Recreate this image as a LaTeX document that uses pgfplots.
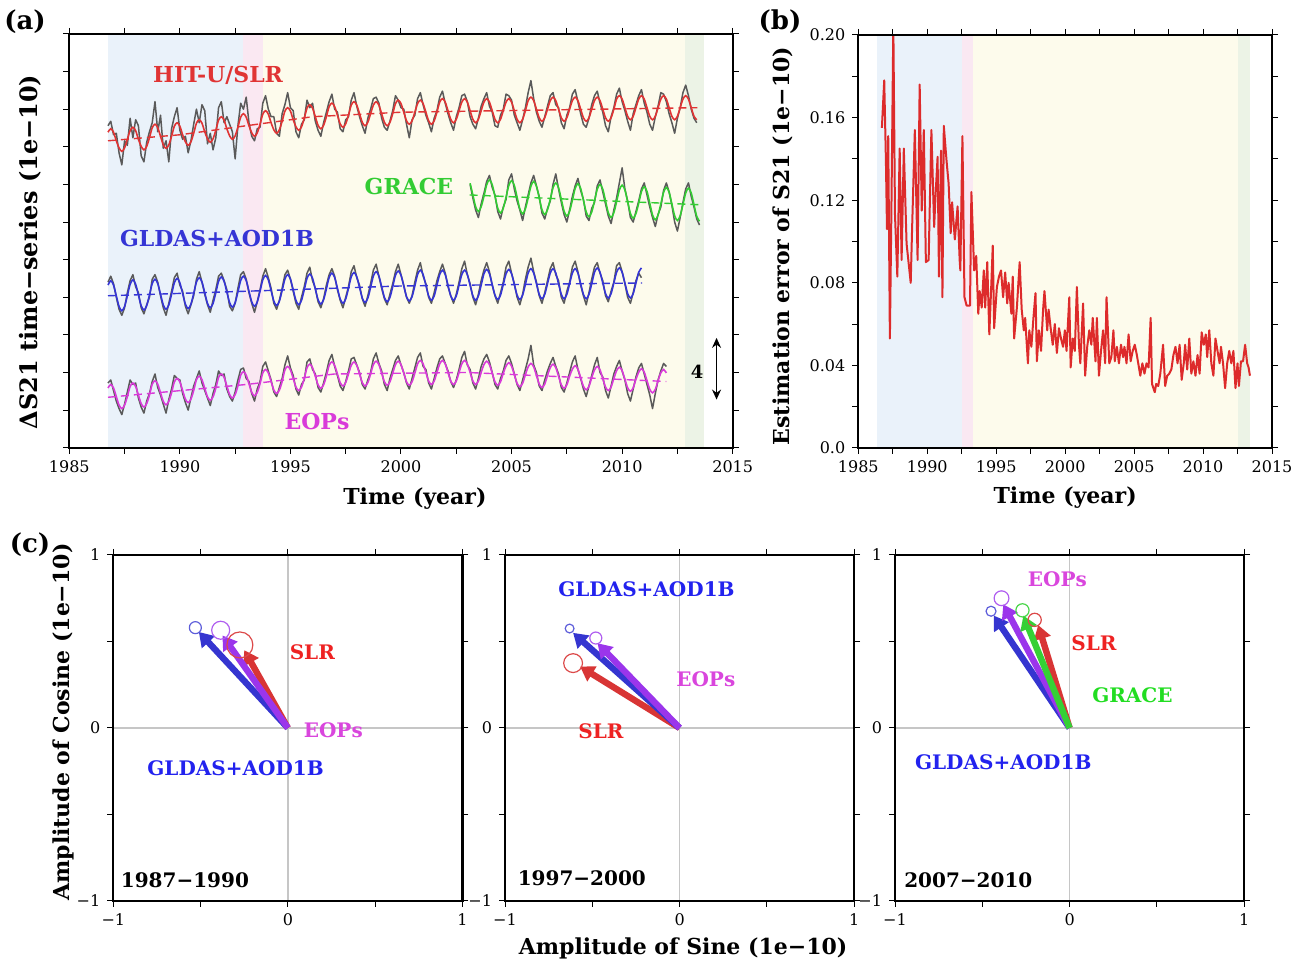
\documentclass[border=0pt]{standalone}
\usepackage{fontspec}
\setmainfont{DejaVu Serif}
\usepackage{pgfplots}
\pgfplotsset{compat=1.18}
\usepackage{pgfplotstable}
\usetikzlibrary{arrows.meta}

\definecolor{bgblue}{HTML}{EAF2FA}
\definecolor{bgpink}{HTML}{FAE8F2}
\definecolor{bgyellow}{HTML}{FDFBEC}
\definecolor{bggreen}{HTML}{ECF3E6}
\definecolor{graycol}{HTML}{5A5A5A}
\definecolor{slrred}{HTML}{E03434}
\definecolor{gracegreen}{HTML}{33CC33}
\definecolor{gldasblue}{HTML}{3535D5}
\definecolor{eopmag}{HTML}{D93BD9}
\definecolor{errred}{HTML}{DD2B2B}
\definecolor{arrblue}{HTML}{3535D0}
\definecolor{arrpurple}{HTML}{9B35EB}
\definecolor{arrred}{HTML}{D83535}
\definecolor{arrgreen}{HTML}{35D035}
\definecolor{labred}{HTML}{EE2222}
\definecolor{labmag}{HTML}{D946DD}
\definecolor{labblue}{HTML}{2222EE}
\definecolor{labgreen}{HTML}{22DD22}

\newcommand{\lab}{\bfseries\fontsize{11}{13}\selectfont}
\newcommand{\clab}{\bfseries\fontsize{10}{12}\selectfont}

\pgfplotsset{
  gmt/.style={
    scale only axis, axis on top, anchor=south west,
    axis line style={line width=1.1pt, black},
    tick align=outside,
    major tick length=3pt, minor tick length=3pt,
    tick style={black, line width=0.5pt},
    tick label style={font=\fontsize{8}{9}\selectfont, black},
    label style={font=\lab},
  },
  cpanel/.style={gmt, width=174.6pt, height=173pt,
    xmin=-1, xmax=1, ymin=-1, ymax=1,
    xtick={-1,0,1}, ytick={-1,0,1},
    xticklabels={−1,0,1}, yticklabels={−1,0,1},
    minor x tick num=1, minor y tick num=1},
  vec/.style={line width=3.2pt, arrows={-Triangle[width=8.5pt,length=7pt]}},
  circ/.style={only marks, mark=o, mark options={line width=0.6pt}},
}

\pgfplotstableread{
t sg sf gg gf eg ef rg rf
1986.750 21.4 20.97 11.0 10.81 4.3 3.97 nan nan
1986.875 21.7 21.20 11.4 11.10 4.5 4.20 nan nan
1987.000 20.8 20.97 10.9 10.81 3.8 3.97 nan nan
1987.125 20.9 20.40 10.0 10.10 3.1 3.40 nan nan
1987.250 19.6 19.93 9.2 9.39 2.6 2.83 nan nan
1987.375 18.8 19.70 8.8 9.10 2.2 2.60 nan nan
1987.500 20.4 19.93 9.3 9.39 2.9 2.83 nan nan
1987.625 20.1 20.50 10.3 10.10 3.7 3.40 nan nan
1987.750 21.9 21.07 11.1 10.86 4.5 4.07 nan nan
1987.875 20.6 21.30 11.5 11.15 4.2 4.30 nan nan
1988.000 21.8 21.07 10.7 10.86 4.3 4.07 nan nan
1988.125 21.4 20.50 10.3 10.15 3.3 3.50 nan nan
1988.250 19.4 20.03 9.3 9.44 2.7 2.93 nan nan
1988.375 19.0 19.80 8.9 9.15 2.3 2.70 nan nan
1988.500 20.3 20.03 9.5 9.44 3.1 2.93 nan nan
1988.625 21.0 20.60 10.0 10.15 3.6 3.50 nan nan
1988.750 21.6 21.27 11.2 10.91 4.4 4.22 nan nan
1988.875 23.0 21.50 11.5 11.20 4.9 4.45 nan nan
1989.000 21.0 21.27 11.0 10.91 4.0 4.22 nan nan
1989.125 22.1 20.70 10.1 10.20 3.5 3.65 nan nan
1989.250 19.9 20.13 9.3 9.49 2.9 3.08 nan nan
1989.375 20.4 19.90 8.8 9.20 2.3 2.85 nan nan
1989.500 19.0 20.13 9.6 9.49 3.2 3.08 nan nan
1989.625 21.2 20.70 10.4 10.20 3.9 3.65 nan nan
1989.750 22.0 21.37 11.3 10.96 4.8 4.37 nan nan
1989.875 22.6 21.60 11.6 11.25 4.6 4.60 nan nan
1990.000 21.1 21.37 10.8 10.96 4.5 4.37 nan nan
1990.125 20.5 20.80 10.4 10.25 3.6 3.80 nan nan
1990.250 20.7 20.33 9.4 9.54 3.0 3.23 nan nan
1990.375 19.6 20.10 8.9 9.25 2.5 3.00 nan nan
1990.500 20.4 20.33 9.5 9.54 3.3 3.23 nan nan
1990.625 21.5 20.90 10.1 10.25 4.1 3.80 nan nan
1990.750 22.5 21.57 11.2 11.01 4.6 4.52 nan nan
1990.875 21.6 21.80 11.7 11.30 5.1 4.75 nan nan
1991.000 22.8 21.57 11.0 11.01 4.3 4.52 nan nan
1991.125 22.4 21.00 10.2 10.30 3.8 3.95 nan nan
1991.250 20.2 20.53 9.5 9.59 3.3 3.38 nan nan
1991.375 20.9 20.30 9.0 9.30 2.8 3.15 nan nan
1991.500 19.8 20.53 9.8 9.59 3.6 3.38 nan nan
1991.625 20.6 21.10 10.5 10.30 4.2 3.95 nan nan
1991.750 22.6 21.77 11.4 11.06 5.1 4.67 nan nan
1991.875 23.0 22.00 11.6 11.35 4.8 4.90 nan nan
1992.000 21.6 21.77 11.1 11.06 4.9 4.67 nan nan
1992.125 22.0 21.20 10.5 10.35 3.9 4.10 nan nan
1992.250 21.5 20.73 9.4 9.64 3.4 3.53 nan nan
1992.375 21.0 20.50 9.1 9.35 3.1 3.30 nan nan
1992.500 19.2 20.73 9.6 9.64 3.7 3.53 nan nan
1992.625 21.4 21.30 10.6 10.35 4.5 4.10 nan nan
1992.750 22.9 21.97 11.5 11.11 5.2 4.82 nan nan
1992.875 22.5 22.20 11.7 11.40 5.3 5.05 nan nan
1993.000 23.3 21.97 11.2 11.11 4.6 4.82 nan nan
1993.125 21.6 21.40 10.3 10.40 4.4 4.25 nan nan
1993.250 20.7 20.93 9.6 9.69 3.6 3.68 nan nan
1993.375 20.4 20.70 9.0 9.40 3.1 3.45 nan nan
1993.500 21.2 20.93 9.7 9.69 3.9 3.68 nan nan
1993.625 21.3 21.50 10.5 10.40 4.4 4.25 nan nan
1993.750 22.9 22.17 11.4 11.16 5.4 4.97 nan nan
1993.875 23.4 22.40 11.9 11.45 5.7 5.20 nan nan
1994.000 22.5 22.17 11.3 11.16 5.1 4.97 nan nan
1994.125 22.0 21.60 10.6 10.45 4.5 4.40 nan nan
1994.250 22.0 21.13 9.6 9.74 3.7 3.83 nan nan
1994.375 20.9 20.90 9.2 9.45 3.4 3.60 nan nan
1994.500 20.7 21.13 9.8 9.74 4.0 3.83 nan nan
1994.625 22.2 21.70 10.6 10.45 4.6 4.40 nan nan
1994.750 22.8 22.37 11.5 11.21 5.5 5.17 nan nan
1994.875 23.6 22.60 11.8 11.50 6.1 5.40 nan nan
1995.000 22.6 22.37 11.2 11.21 5.3 5.17 nan nan
1995.125 22.4 21.80 10.4 10.50 4.8 4.60 nan nan
1995.250 21.0 21.33 9.6 9.79 3.9 4.03 nan nan
1995.375 20.6 21.10 9.2 9.50 3.5 3.80 nan nan
1995.500 21.5 21.33 10.0 9.79 4.2 4.03 nan nan
1995.625 21.8 21.90 10.7 10.50 4.5 4.60 nan nan
1995.750 23.1 22.57 11.6 11.26 5.7 5.32 nan nan
1995.875 22.6 22.80 12.0 11.55 5.9 5.55 nan nan
1996.000 22.9 22.57 11.1 11.26 5.2 5.32 nan nan
1996.125 21.7 22.00 10.6 10.55 4.9 4.75 nan nan
1996.250 21.1 21.43 9.7 9.84 4.0 4.18 nan nan
1996.375 20.7 21.20 9.3 9.55 3.7 3.95 nan nan
1996.500 21.6 21.43 9.9 9.84 4.3 4.18 nan nan
1996.625 22.3 22.00 10.8 10.55 5.0 4.75 nan nan
1996.750 23.0 22.67 11.5 11.31 5.8 5.47 nan nan
1996.875 23.5 22.90 11.9 11.60 6.2 5.70 nan nan
1997.000 22.5 22.67 11.4 11.31 5.4 5.47 nan nan
1997.125 22.3 22.10 10.5 10.60 4.8 4.90 nan nan
1997.250 21.2 21.53 9.8 9.89 4.1 4.33 nan nan
1997.375 21.0 21.30 9.3 9.60 3.8 4.10 nan nan
1997.500 21.8 21.53 10.0 9.89 4.4 4.33 nan nan
1997.625 22.0 22.10 10.7 10.60 5.1 4.90 nan nan
1997.750 23.1 22.77 11.7 11.36 5.9 5.47 nan nan
1997.875 23.6 23.00 12.1 11.65 6.0 5.70 nan nan
1998.000 22.7 22.77 11.3 11.36 5.5 5.47 nan nan
1998.125 22.0 22.20 10.8 10.65 5.0 4.90 nan nan
1998.250 21.4 21.63 9.9 9.94 4.2 4.33 nan nan
1998.375 20.9 21.40 9.4 9.65 3.9 4.10 nan nan
1998.500 21.9 21.63 10.1 9.94 4.5 4.33 nan nan
1998.625 22.5 22.20 10.9 10.65 5.0 4.90 nan nan
1998.750 23.2 22.77 11.8 11.41 5.9 5.52 nan nan
1998.875 23.3 23.00 12.2 11.70 6.3 5.75 nan nan
1999.000 22.9 22.77 11.4 11.41 5.6 5.52 nan nan
1999.125 21.9 22.20 10.6 10.70 5.1 4.95 nan nan
1999.250 21.3 21.63 9.9 9.99 4.2 4.38 nan nan
1999.375 21.1 21.40 9.5 9.70 3.8 4.15 nan nan
1999.500 21.7 21.63 10.2 9.99 4.6 4.38 nan nan
1999.625 22.4 22.20 10.9 10.70 5.2 4.95 nan nan
1999.750 23.4 22.87 11.7 11.46 5.8 5.52 nan nan
1999.875 23.1 23.10 12.2 11.75 6.1 5.75 nan nan
2000.000 22.6 22.87 11.5 11.46 5.5 5.52 nan nan
2000.125 22.5 22.30 10.8 10.75 5.0 4.95 nan nan
2000.250 21.5 21.73 10.0 10.04 4.3 4.38 nan nan
2000.375 20.6 21.50 9.6 9.75 3.9 4.15 nan nan
2000.500 21.8 21.73 10.1 10.04 4.6 4.38 nan nan
2000.625 22.1 22.30 11.0 10.75 5.3 4.95 nan nan
2000.750 23.2 22.87 11.8 11.51 6.0 5.57 nan nan
2000.875 23.6 23.10 12.3 11.80 6.3 5.80 nan nan
2001.000 22.8 22.87 11.4 11.51 5.4 5.57 nan nan
2001.125 22.1 22.30 10.9 10.80 5.2 5.00 nan nan
2001.250 21.6 21.73 10.0 10.09 4.3 4.43 nan nan
2001.375 21.0 21.50 9.6 9.80 3.9 4.20 nan nan
2001.500 21.9 21.73 10.3 10.09 4.6 4.43 nan nan
2001.625 22.4 22.30 11.1 10.80 5.3 5.00 nan nan
2001.750 23.3 22.97 11.7 11.51 5.9 5.57 nan nan
2001.875 23.7 23.20 12.2 11.80 6.1 5.80 nan nan
2002.000 22.9 22.97 11.6 11.51 5.6 5.57 nan nan
2002.125 22.2 22.40 10.7 10.80 5.1 5.00 nan nan
2002.250 21.6 21.83 10.1 10.09 4.4 4.43 nan nan
2002.375 21.1 21.60 9.6 9.80 4.0 4.20 nan nan
2002.500 22.0 21.83 10.2 10.09 4.5 4.43 nan nan
2002.625 22.6 22.40 11.0 10.80 5.2 5.00 nan nan
2002.750 23.4 22.97 11.9 11.51 6.0 5.57 nan nan
2002.875 23.5 23.20 12.4 11.80 6.4 5.80 nan nan
2003.000 23.0 22.97 11.5 11.51 5.5 5.57 nan nan
2003.125 22.0 22.40 10.9 10.80 5.2 5.00 17.5 17.58
2003.250 21.5 21.83 10.0 10.09 4.3 4.43 16.6 16.80
2003.375 21.2 21.60 9.5 9.80 3.9 4.20 15.8 16.02
2003.500 21.9 21.83 10.2 10.09 4.6 4.43 15.3 15.70
2003.625 22.7 22.40 11.1 10.80 5.4 5.00 16.2 16.02
2003.750 23.2 22.97 11.8 11.56 5.9 5.52 16.9 16.70
2003.875 23.6 23.20 12.3 11.85 6.2 5.75 17.7 17.48
2004.000 22.7 22.97 11.7 11.56 5.7 5.52 18.1 17.80
2004.125 22.3 22.40 10.8 10.85 5.0 4.95 17.3 17.48
2004.250 21.4 21.83 10.1 10.14 4.2 4.38 16.8 16.70
2004.375 21.3 21.60 9.6 9.85 3.9 4.15 15.7 15.92
2004.500 22.1 21.83 10.3 10.14 4.6 4.38 15.2 15.60
2004.625 22.5 22.40 11.0 10.85 5.1 4.95 16.0 15.92
2004.750 23.5 22.97 12.0 11.56 5.8 5.42 16.5 16.65
2004.875 23.4 23.20 12.4 11.85 6.1 5.65 17.8 17.43
2005.000 23.1 22.97 11.6 11.56 5.6 5.42 18.2 17.75
2005.125 22.1 22.40 10.9 10.85 4.9 4.85 17.2 17.43
2005.250 21.6 21.83 10.0 10.14 4.2 4.28 16.4 16.65
2005.375 21.1 21.60 9.5 9.85 3.8 4.05 15.8 15.87
2005.500 21.8 21.83 10.2 10.14 4.5 4.28 15.1 15.55
2005.625 22.6 22.40 11.2 10.85 5.2 4.85 16.0 15.87
2005.750 23.6 23.07 12.0 11.61 5.9 5.37 16.8 16.60
2005.875 24.4 23.30 12.6 11.90 6.8 5.60 17.6 17.38
2006.000 23.2 23.07 11.7 11.61 5.5 5.37 18.1 17.70
2006.125 22.3 22.50 11.0 10.90 5.0 4.80 17.4 17.38
2006.250 21.7 21.93 10.1 10.19 4.1 4.23 16.7 16.60
2006.375 21.3 21.70 9.6 9.90 3.8 4.00 15.6 15.82
2006.500 22.0 21.93 10.3 10.19 4.5 4.23 15.2 15.50
2006.625 22.7 22.50 11.1 10.90 5.1 4.80 15.9 15.82
2006.750 23.4 23.07 11.9 11.61 5.6 5.32 16.4 16.50
2006.875 23.6 23.30 12.3 11.90 6.0 5.55 17.5 17.28
2007.000 22.8 23.07 11.5 11.61 5.4 5.32 18.2 17.60
2007.125 22.6 22.50 11.1 10.90 4.9 4.75 17.2 17.28
2007.250 21.6 21.93 10.0 10.19 4.0 4.18 16.3 16.50
2007.375 21.2 21.70 9.6 9.90 3.7 3.95 15.5 15.72
2007.500 22.1 21.93 10.4 10.19 4.3 4.18 15.0 15.40
2007.625 22.6 22.50 11.0 10.90 5.0 4.75 15.8 15.72
2007.750 23.5 23.07 12.0 11.61 5.7 5.22 16.7 16.45
2007.875 23.8 23.30 12.4 11.90 6.1 5.45 17.4 17.23
2008.000 23.0 23.07 11.7 11.61 5.2 5.22 17.9 17.55
2008.125 22.2 22.50 10.8 10.90 4.6 4.65 17.1 17.23
2008.250 21.5 21.93 10.1 10.19 3.9 4.08 16.5 16.45
2008.375 21.3 21.70 9.5 9.90 3.4 3.85 15.4 15.67
2008.500 21.9 21.93 10.3 10.19 4.1 4.08 15.1 15.35
2008.625 22.8 22.50 11.2 10.90 4.8 4.65 15.9 15.67
2008.750 23.4 23.07 12.0 11.66 5.5 5.17 16.3 16.40
2008.875 23.7 23.30 12.3 11.95 6.0 5.40 17.4 17.18
2009.000 22.9 23.07 11.6 11.66 5.0 5.17 17.8 17.50
2009.125 22.3 22.50 11.1 10.95 4.7 4.60 17.0 17.18
2009.250 21.4 21.93 10.1 10.24 3.8 4.03 16.2 16.40
2009.375 21.0 21.70 9.7 9.95 3.3 3.80 15.4 15.62
2009.500 22.0 21.93 10.4 10.24 4.1 4.03 14.9 15.30
2009.625 22.6 22.50 11.0 10.95 4.9 4.60 15.8 15.62
2009.750 23.5 23.17 12.1 11.66 5.4 5.12 16.6 16.35
2009.875 23.9 23.40 12.3 11.95 5.8 5.35 17.6 17.13
2010.000 23.0 23.17 11.7 11.66 5.1 5.12 18.6 17.45
2010.125 22.4 22.60 10.9 10.95 4.5 4.55 17.2 17.13
2010.250 21.7 22.03 10.0 10.24 3.6 3.98 16.4 16.35
2010.375 21.1 21.80 9.6 9.95 3.1 3.75 15.3 15.57
2010.500 22.2 22.03 10.3 10.24 3.9 3.98 15.0 15.25
2010.625 22.8 22.60 11.1 10.95 4.7 4.55 15.7 15.57
2010.750 23.4 23.17 11.6 11.66 5.3 5.02 16.4 16.25
2010.875 23.8 23.40 11.3 11.95 5.6 5.25 17.2 17.03
2011.000 22.9 23.17 nan nan 4.9 5.02 17.6 17.35
2011.125 22.3 22.60 nan nan 4.2 4.45 16.8 17.03
2011.250 21.5 22.03 nan nan 3.5 3.88 16.0 16.25
2011.375 21.1 21.80 nan nan 2.6 3.65 15.3 15.47
2011.500 22.0 22.03 nan nan 3.6 3.88 14.7 15.15
2011.625 22.7 22.60 nan nan 4.5 4.45 15.5 15.47
2011.750 23.6 23.17 nan nan 5.1 4.97 16.0 16.20
2011.875 23.5 23.40 nan nan 5.6 5.20 17.1 16.98
2012.000 23.0 23.17 nan nan 5.4 4.97 17.6 17.30
2012.125 22.2 22.60 nan nan nan nan 17.0 16.98
2012.250 21.6 22.03 nan nan nan nan 16.1 16.20
2012.375 20.9 21.80 nan nan nan nan 15.0 15.42
2012.500 21.9 22.03 nan nan nan nan 14.4 15.10
2012.625 22.6 22.60 nan nan nan nan 15.3 15.42
2012.750 23.6 23.17 nan nan nan nan 16.3 16.15
2012.875 24.1 23.40 nan nan nan nan 17.2 16.93
2013.000 23.4 23.17 nan nan nan nan 17.6 17.25
2013.125 22.5 22.60 nan nan nan nan 16.7 16.93
2013.250 21.9 22.03 nan nan nan nan 16.0 16.15
2013.375 21.6 21.80 nan nan nan nan 15.2 15.37
2013.500 nan nan nan nan nan nan 14.8 15.05
}\dataA

\pgfplotstableread{
t v
1986.71 0.155
1986.88 0.178
1987.00 0.140
1987.08 0.106
1987.17 0.151
1987.29 0.053
1987.40 0.115
1987.54 0.205
1987.66 0.113
1987.83 0.083
1988.00 0.145
1988.14 0.091
1988.30 0.145
1988.50 0.099
1988.80 0.080
1988.90 0.106
1989.10 0.154
1989.30 0.091
1989.45 0.176
1989.60 0.115
1989.75 0.154
1989.90 0.090
1990.10 0.091
1990.30 0.154
1990.50 0.107
1990.60 0.122
1990.75 0.141
1990.85 0.083
1991.00 0.144
1991.10 0.073
1991.20 0.156
1991.40 0.139
1991.55 0.128
1991.70 0.104
1991.80 0.119
1992.00 0.101
1992.20 0.117
1992.35 0.091
1992.40 0.086
1992.55 0.151
1992.70 0.073
1992.85 0.069
1993.10 0.069
1993.20 0.124
1993.40 0.086
1993.55 0.093
1993.70 0.065
1993.80 0.076
1993.95 0.068
1994.10 0.086
1994.20 0.068
1994.35 0.090
1994.50 0.055
1994.65 0.080
1994.75 0.098
1994.85 0.058
1995.05 0.078
1995.20 0.083
1995.35 0.086
1995.50 0.073
1995.65 0.085
1995.80 0.070
1995.90 0.080
1996.10 0.065
1996.20 0.083
1996.30 0.053
1996.50 0.068
1996.70 0.090
1996.85 0.067
1997.00 0.057
1997.10 0.063
1997.30 0.041
1997.40 0.057
1997.55 0.049
1997.70 0.063
1997.85 0.075
1997.95 0.042
1998.10 0.057
1998.25 0.047
1998.40 0.067
1998.50 0.076
1998.70 0.057
1998.80 0.067
1998.95 0.058
1999.10 0.050
1999.25 0.060
1999.40 0.046
1999.55 0.058
1999.70 0.053
1999.85 0.049
1999.98 0.057
2000.10 0.047
2000.30 0.073
2000.40 0.039
2000.55 0.053
2000.70 0.047
2000.85 0.078
2001.00 0.050
2001.10 0.041
2001.30 0.070
2001.45 0.035
2001.60 0.049
2001.75 0.057
2001.90 0.050
2002.00 0.063
2002.20 0.042
2002.30 0.063
2002.45 0.035
2002.60 0.047
2002.75 0.057
2002.90 0.041
2003.00 0.073
2003.20 0.041
2003.35 0.044
2003.50 0.057
2003.60 0.042
2003.75 0.049
2003.90 0.041
2004.05 0.050
2004.20 0.044
2004.30 0.049
2004.45 0.041
2004.60 0.055
2004.75 0.042
2004.90 0.047
2005.05 0.050
2005.20 0.045
2005.30 0.041
2005.45 0.035
2005.60 0.041
2005.75 0.036
2005.90 0.041
2006.05 0.039
2006.20 0.063
2006.30 0.031
2006.50 0.027
2006.60 0.031
2006.75 0.030
2006.90 0.036
2007.10 0.050
2007.25 0.030
2007.40 0.035
2007.55 0.036
2007.70 0.038
2007.85 0.045
2008.00 0.049
2008.15 0.041
2008.30 0.050
2008.45 0.033
2008.60 0.041
2008.70 0.050
2008.85 0.038
2009.00 0.053
2009.15 0.036
2009.30 0.042
2009.45 0.035
2009.60 0.045
2009.75 0.036
2009.90 0.056
2010.05 0.050
2010.20 0.055
2010.30 0.044
2010.45 0.057
2010.60 0.041
2010.75 0.035
2010.90 0.053
2011.05 0.047
2011.20 0.041
2011.30 0.049
2011.45 0.041
2011.60 0.029
2011.75 0.041
2011.90 0.047
2012.05 0.041
2012.20 0.047
2012.35 0.029
2012.50 0.041
2012.60 0.030
2012.75 0.042
2012.90 0.042
2013.05 0.050
2013.20 0.041
2013.30 0.039
2013.40 0.035
}\dataB

\begin{document}
\begin{tikzpicture}
\useasboundingbox (0,0) rectangle (653.5pt,484pt);

% ---------------- (a) ----------------
\begin{axis}[gmt, at={(34.65pt,260.15pt)}, width=331.7pt, height=206.85pt,
  xmin=1985, xmax=2015, ymin=0, ymax=27.5,
  xtick={1985,1990,1995,2000,2005,2010,2015},
  xticklabels={1985,1990,1995,2000,2005,2010,2015},
  minor x tick num=1,
  ytick={0,2.5,...,27.5}, yticklabel={\mbox{}},
  xlabel={Time (year)},
  ylabel={ΔS21 time−series (1e−10)},
  xlabel style={at={(axis description cs:0.521,-0.122)}, anchor=center},
  ylabel style={at={(axis description cs:-0.059,0.473)}, anchor=center, font=\bfseries\fontsize{12}{14}\selectfont},
]
\addplot[fill=bgblue, draw=none] coordinates {(1986.76,27.5) (1992.87,27.5)} \closedcycle;
\addplot[fill=bgpink, draw=none] coordinates {(1992.87,27.5) (1993.74,27.5)} \closedcycle;
\addplot[fill=bgyellow, draw=none] coordinates {(1993.74,27.5) (2012.85,27.5)} \closedcycle;
\addplot[fill=bggreen, draw=none] coordinates {(2012.85,27.5) (2013.71,27.5)} \closedcycle;

\addplot[graycol, line width=0.75pt, line join=round] table[x=t, y=sg] {\dataA};
\addplot[slrred, line width=0.8pt, smooth] table[x=t, y=sf] {\dataA};
\addplot[slrred, line width=0.7pt, dash pattern=on 4pt off 2.5pt] coordinates {(1986.75,20.4) (1990,20.8) (1993,21.4) (1996,22.0) (2000,22.3) (2013.4,22.6)};

\addplot[graycol, line width=0.75pt, line join=round] table[x=t, y=rg] {\dataA};
\addplot[gracegreen, line width=0.8pt, smooth] table[x=t, y=rf] {\dataA};
\addplot[gracegreen, line width=0.7pt, dash pattern=on 4pt off 2.5pt] coordinates {(2003.1,16.8) (2013.5,16.15)};

\addplot[graycol, line width=0.75pt, line join=round] table[x=t, y=gg] {\dataA};
\addplot[gldasblue, line width=0.8pt, smooth] table[x=t, y=gf] {\dataA};
\addplot[gldasblue, line width=0.7pt, dash pattern=on 4pt off 2.5pt] coordinates {(1986.75,10.1) (1993,10.4) (2000,10.75) (2010.9,10.95)};

\addplot[graycol, line width=0.75pt, line join=round] table[x=t, y=eg] {\dataA};
\addplot[eopmag, line width=0.8pt, smooth] table[x=t, y=ef] {\dataA};
\addplot[eopmag, line width=0.7pt, dash pattern=on 4pt off 2.5pt] coordinates {(1986.75,3.35) (1993,4.2) (1997,4.9) (2003,5.0) (2012,4.4)};

\addplot[black, line width=0.7pt, arrows={Stealth[length=5pt,width=4.5pt]-Stealth[length=5pt,width=4.5pt]}] coordinates {(2014.27,3.2) (2014.27,7.3)};

\node[font=\lab, text=slrred] at (axis cs:1991.73,24.76) {HIT-U/SLR};
\node[font=\lab, text=gracegreen] at (axis cs:2000.36,17.39) {GRACE};
\node[font=\lab, text=gldasblue] at (axis cs:1991.68,13.93) {GLDAS+AOD1B};
\node[font=\lab, text=eopmag] at (axis cs:1996.2,1.71) {EOPs};
\node[font=\bfseries\fontsize{9}{11}\selectfont] at (axis cs:2013.39,5.03) {4};
\end{axis}

% ---------------- (b) ----------------
\begin{axis}[gmt, at={(429.15pt,260pt)}, width=206.85pt, height=206.5pt,
  xmin=1985, xmax=2015, ymin=0, ymax=0.2,
  xtick={1985,1990,1995,2000,2005,2010,2015},
  xticklabels={1985,1990,1995,2000,2005,2010,2015},
  minor x tick num=1,
  ytick={0,0.04,0.08,0.12,0.16,0.2},
  yticklabels={0.0,0.04,0.08,0.12,0.16,0.20},
  minor y tick num=1,
  xlabel={Time (year)},
  ylabel={Estimation error of S21 (1e−10)},
  xlabel style={at={(axis description cs:0.5,-0.119)}, anchor=center},
  ylabel style={at={(axis description cs:-0.182,0.489)}, anchor=center},
]
\addplot[fill=bgblue, draw=none] coordinates {(1986.38,0.2) (1992.5,0.2)} \closedcycle;
\addplot[fill=bgpink, draw=none] coordinates {(1992.5,0.2) (1993.34,0.2)} \closedcycle;
\addplot[fill=bgyellow, draw=none] coordinates {(1993.34,0.2) (2012.51,0.2)} \closedcycle;
\addplot[fill=bggreen, draw=none] coordinates {(2012.51,0.2) (2013.4,0.2)} \closedcycle;
\addplot[errred, line width=1pt, line join=round] table[x=t, y=v] {\dataB};
\end{axis}

% ---------------- (c) panel 1 ----------------
\begin{axis}[cpanel, at={(56.65pt,33.5pt)},
  ylabel={Amplitude of Cosine (1e−10)},
  ylabel style={at={(axis description cs:-0.144,0.517)}, anchor=center},
]
\addplot[gray!45, line width=0.6pt] coordinates {(-1,0) (1,0)};
\addplot[gray!45, line width=0.6pt] coordinates {(0,-1) (0,1)};
\addplot[arrblue, vec] coordinates {(0,0) (-0.51,0.555)};
\addplot[arrred, vec] coordinates {(0,0) (-0.25,0.45)};
\addplot[arrpurple, vec] coordinates {(0,0) (-0.375,0.535)};
\addplot[circ, arrblue!80, mark size=3pt] coordinates {(-0.53,0.58)};
\addplot[circ, arrpurple!80, mark size=4.5pt] coordinates {(-0.385,0.565)};
\addplot[circ, arrred!90, mark size=6.5pt] coordinates {(-0.275,0.48)};
\node[font=\clab, text=labred] at (axis cs:0.14,0.44) {SLR};
\node[font=\clab, text=labmag] at (axis cs:0.26,-0.01) {EOPs};
\node[font=\clab, text=labblue] at (axis cs:-0.30,-0.23) {GLDAS+AOD1B};
\node[font=\clab] at (axis cs:-0.59,-0.88) {1987−1990};
\end{axis}

% ---------------- (c) panel 2 ----------------
\begin{axis}[cpanel, at={(252.5pt,33.5pt)},
  xlabel={Amplitude of Sine (1e−10)},
  xlabel style={at={(axis description cs:0.51,-0.136)}, anchor=center},
]
\addplot[gray!45, line width=0.6pt] coordinates {(-1,0) (1,0)};
\addplot[gray!45, line width=0.6pt] coordinates {(0,-1) (0,1)};
\addplot[arrred, vec] coordinates {(0,0) (-0.57,0.355)};
\addplot[arrblue, vec] coordinates {(0,0) (-0.61,0.55)};
\addplot[arrpurple, vec] coordinates {(0,0) (-0.47,0.49)};
\addplot[circ, arrblue!80, mark size=2.2pt] coordinates {(-0.63,0.575)};
\addplot[circ, arrpurple!80, mark size=3pt] coordinates {(-0.48,0.52)};
\addplot[circ, arrred!90, mark size=4.7pt] coordinates {(-0.61,0.375)};
\node[font=\clab, text=labblue] at (axis cs:-0.19,0.80) {GLDAS+AOD1B};
\node[font=\clab, text=labmag] at (axis cs:0.15,0.28) {EOPs};
\node[font=\clab, text=labred] at (axis cs:-0.45,-0.02) {SLR};
\node[font=\clab] at (axis cs:-0.56,-0.87) {1997−2000};
\end{axis}

% ---------------- (c) panel 3 ----------------
\begin{axis}[cpanel, at={(447.5pt,33.5pt)}]
\addplot[gray!45, line width=0.6pt] coordinates {(-1,0) (1,0)};
\addplot[gray!45, line width=0.6pt] coordinates {(0,-1) (0,1)};
\addplot[arrblue, vec] coordinates {(0,0) (-0.435,0.65)};
\addplot[arrred, vec] coordinates {(0,0) (-0.18,0.595)};
\addplot[arrpurple, vec] coordinates {(0,0) (-0.38,0.715)};
\addplot[arrgreen, vec] coordinates {(0,0) (-0.265,0.65)};
\addplot[circ, arrblue!80, mark size=2.5pt] coordinates {(-0.45,0.675)};
\addplot[circ, arrpurple!80, mark size=3.7pt] coordinates {(-0.39,0.75)};
\addplot[circ, arrgreen!90, mark size=3.3pt] coordinates {(-0.27,0.68)};
\addplot[circ, arrred!90, mark size=3.3pt] coordinates {(-0.20,0.625)};
\node[font=\clab, text=labmag] at (axis cs:-0.07,0.86) {EOPs};
\node[font=\clab, text=labred] at (axis cs:0.14,0.49) {SLR};
\node[font=\clab, text=labgreen] at (axis cs:0.36,0.19) {GRACE};
\node[font=\clab, text=labblue] at (axis cs:-0.38,-0.20) {GLDAS+AOD1B};
\node[font=\clab] at (axis cs:-0.58,-0.88) {2007−2010};
\end{axis}

\node[font=\bfseries\fontsize{13}{15}\selectfont] at (12.5pt,473pt) {(a)};
\node[font=\bfseries\fontsize{13}{15}\selectfont] at (390pt,473pt) {(b)};
\node[font=\bfseries\fontsize{13}{15}\selectfont] at (15pt,211.5pt) {(c)};
\end{tikzpicture}
\end{document}
